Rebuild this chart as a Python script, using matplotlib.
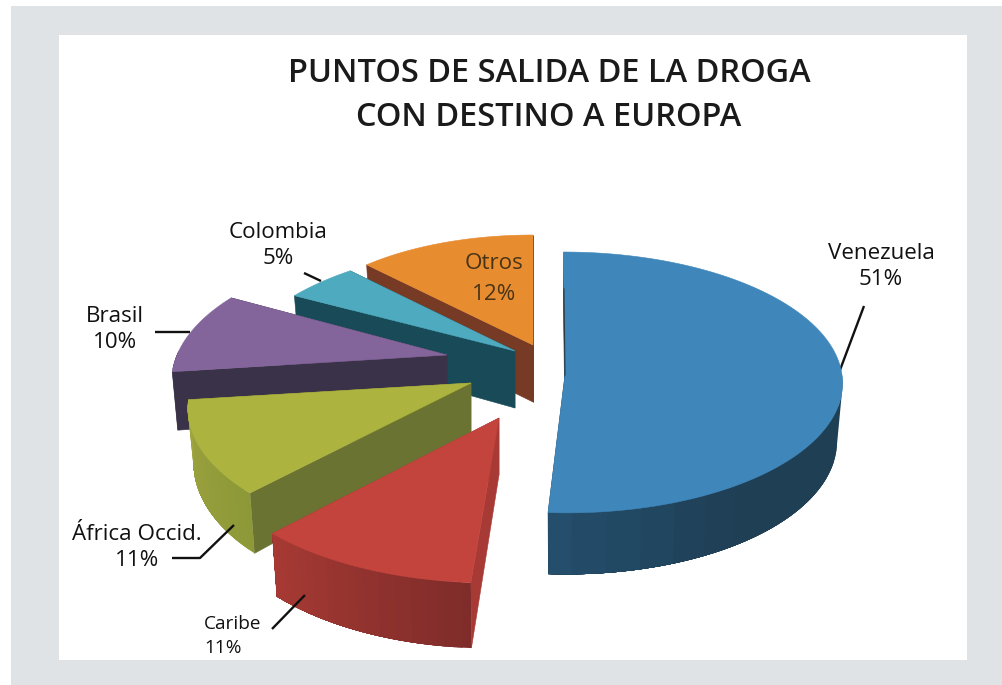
import numpy as np
import matplotlib
matplotlib.use("Agg")
import matplotlib.pyplot as plt
from matplotlib.colors import to_rgb
from matplotlib.patches import Rectangle

# ---- data ----
categories = ["Venezuela", "Caribe", "África Occid.", "Brasil", "Colombia", "Otros"]
shares = [51, 11, 11, 10, 5, 12]
title_lines = ["PUNTOS DE SALIDA DE LA DROGA", "CON DESTINO A EUROPA"]

# ---- styles / layout ----
top_colors = ["#3f86ba", "#c3433d", "#acb33f", "#84659b", "#4daabf", "#e88c30"]
cut_colors = ["#1f3f55", "#a73a35", "#6a7332", "#3a3248", "#184b57", "#763a25"]
wall_left = ["#25506e", "#a83a34", "#a0a640", "#3a3248", "#184b57", "#763a25"]
wall_right = ["#1f3f55", "#7f2c2a", "#8d9838", "#3a3248", "#184b57", "#763a25"]
wall_fade = [0.55, 0.0, 0.0, 0.0, 0.0, 0.0]
apex_x = [565, 499, 471, 447, 515, 533]
apex_y = [375, 418, 383, 355, 351, 345]
radius_x = [277, 293, 278, 270, 276, 243]
radius_y = [130, 143.5, 130, 130, 126, 110]
persp = [0.057, 0.13, 0.19, 0.20, 0.20, 0.0]
shear = [-1.5, 7, 0, 0, 0, 0]
depth = [58, 57, 52, 57, 57, 57]
draw_order = [5, 4, 3, 0, 2, 1]
RIM_SCALE = 0.98

FONT = "Open Sans"

fig = plt.figure(figsize=(10.02, 6.85), dpi=100, facecolor="white")
ax = fig.add_axes([0, 0, 1, 1])
ax.set_xlim(0, 1002)
ax.set_ylim(685, 0)
ax.axis("off")

ax.add_patch(Rectangle((11, 6), 991, 679, fc="#e0e3e6", ec="none", zorder=0))
ax.add_patch(Rectangle((59, 35), 908, 625, fc="white", ec="none", zorder=0.5))

# slice boundaries: clockwise from 12 o'clock
bounds = 90 - 3.6 * np.concatenate([[0], np.cumsum(shares)])


def project(i, t, lower=False):
    """Point on the rim of slice i at angle t (radians)."""
    s = 1 / (1 + persp[i] * np.sin(t))
    x = radius_x[i] * np.cos(t) * s + shear[i] * np.sin(t)
    y = -radius_y[i] * np.sin(t) * s
    if lower:
        x = x * RIM_SCALE
        y = y + depth[i] * s
    return apex_x[i] + x, apex_y[i] + y


for z, i in enumerate(draw_order):
    base = 2 + z
    a0, a1 = np.radians(bounds[i]), np.radians(bounds[i + 1])
    ts = np.linspace(a0, a1, 160)
    tx, ty = project(i, ts)
    # cut faces
    for a in (a0, a1):
        px, py = project(i, a)
        qx, qy = project(i, a, True)
        ax.fill([apex_x[i], px, qx, apex_x[i]],
                [apex_y[i], py, qy, apex_y[i] + depth[i]],
                fc=cut_colors[i], ec=cut_colors[i], lw=0.4, zorder=base)
    # outer wall: each band covers everything still to its left, so no seams
    c0, c1 = np.array(to_rgb(wall_left[i])), np.array(to_rgb(wall_right[i]))
    front = ts[np.sin(ts) < 0.03]
    if front.size > 1:
        span = front[0] - front[-1]
        ux, uy = project(i, front)
        lx, ly = project(i, front, True)
        for k in range(0, front.size - 1, 6):
            g = (front[0] - front[k]) / span
            g = np.clip((g - wall_fade[i]) / (1 - wall_fade[i]), 0, 1)
            col = c1 + (c0 - c1) * g
            ax.fill(np.r_[ux[k:], lx[k:][::-1]], np.r_[uy[k:], ly[k:][::-1]],
                    fc=col, ec="none", lw=0, zorder=base + 0.1)
    # top
    ax.fill(np.r_[apex_x[i], tx], np.r_[apex_y[i], ty],
            fc=top_colors[i], ec=top_colors[i], lw=0.4, zorder=base + 0.2)

# thin dark seam on the Venezuela slice
sx, sy = project(0, np.radians(bounds[0]))
ax.plot([sx + 0.3 * (apex_x[0] - sx), apex_x[0]],
        [sy + 0.3 * (apex_y[0] - sy), apex_y[0]],
        color="#2b3b45", lw=0.8, zorder=30)

# leader lines
leaders = [
    ([840, 864], [370, 306]),
    ([304, 321], [273, 281]),
    ([155, 190], [332, 332]),
    ([172, 200, 234], [558, 558, 525]),
    ([272, 305], [629, 595]),
]
for n, (lx, ly) in enumerate(leaders):
    ax.plot(lx, ly, color="#111111", lw=1.7, solid_capstyle="butt",
            zorder=31 if n >= 3 else 1)

# title
for line, y in zip(title_lines, [73.5, 117.5]):
    ax.text(549, y, line, ha="center", va="center", family=FONT,
            fontsize=23.4, fontweight="semibold", color="#1a1a1a", zorder=40)

# labels
label_pos = [(881, 253, 279), None, (137, 534, 561), (115, 316, 342), (278, 232, 258), (494, 263, 294)]
for i, pos in enumerate(label_pos):
    if pos is None:
        continue
    col = "#4a3418" if categories[i] == "Otros" else "#111111"
    ax.text(pos[0], pos[1], categories[i], ha="center", va="center", family=FONT,
            fontsize=16.1, color=col, zorder=40)
    ax.text(pos[0], pos[2], f"{shares[i]}%", ha="center", va="center", family=FONT,
            fontsize=16.1, color=col, zorder=40)
ax.text(204, 624, categories[1], ha="left", va="center", family=FONT,
        fontsize=13.7, color="#111111", zorder=40)
ax.text(204, 648, f"{shares[1]}%", ha="left", va="center", family=FONT,
        fontsize=13.7, color="#111111", zorder=40)

fig.savefig("out.png", dpi=100, facecolor="white")
